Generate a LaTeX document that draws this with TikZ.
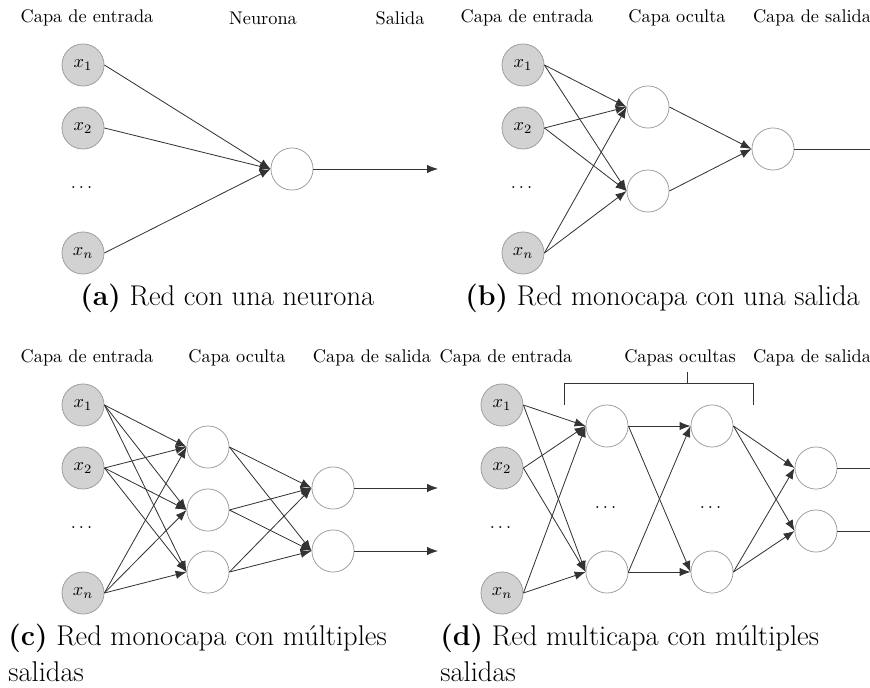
\documentclass[tikz,border=0pt]{standalone}
\usepackage{amsmath}
\usepackage{amssymb}
\usepackage{tikz}
\usetikzlibrary{arrows.meta}

\begin{document}
\begin{tikzpicture}[x=0.5465pt,y=-0.5465pt,
  entrada/.style={circle,draw=gray!80,fill=gray!35,minimum size=23pt,inner sep=0pt},
  neurona/.style={circle,draw=gray!80,fill=white,minimum size=23pt,inner sep=0pt},
  flecha/.style={-{Latex[length=6pt,width=4.6pt]},draw=black!80,line width=0.45pt},
  pie/.style={font=\fontsize{15.6}{19.5}\selectfont,align=left,inner sep=0pt,anchor=base west}]
\clip (0,0) rectangle (870,688);

% capas de entrada de las cuatro redes
\foreach \p/\x/\y in {a/83/0,b/523/0,c/83/340,d/502/340} {
  \node [entrada] (\p-x1) at (\x,\y+65) {$x_1$};
  \node [entrada] (\p-x2) at (\x,\y+128) {$x_2$};
  \node (\p-dots) at (\x,\y+188) {$\dots$};
  \node [entrada] (\p-xn) at (\x,\y+253) {$x_n$};
  \node (\p-ent) at (\x+4,\y+18) {Capa de entrada};
}

% (a) una neurona
\node (a-neu) at (263,18) {Neurona};
\node (a-sal) at (400,18) {Salida};
\node [neurona] (a-n) at (292,169) {};
\coordinate (a-fin) at (438,169);
\foreach \i in {x1,x2,xn}
  \draw [flecha] (a-\i.east) -- (a-n.west);
\draw [flecha] (a-n.east) -- (a-fin);
\node [pie] (a-pie) at (80,306) {\textbf{(a)} Red con una neurona};

% (b) monocapa, una salida
\node (b-oc) at (677,18) {Capa oculta};
\node (b-sal) at (812,18) {Capa de salida};
\node [neurona] (b-h1) at (648,107) {};
\node [neurona] (b-h2) at (648,191) {};
\node [neurona] (b-o) at (773,149) {};
\coordinate (b-fin) at (882,149);
\foreach \i in {x1,x2,xn}
  \foreach \j in {h1,h2}
    \draw [flecha] (b-\i.east) -- (b-\j.west);
\foreach \j in {h1,h2}
  \draw [flecha] (b-\j.east) -- (b-o.west);
\draw [flecha] (b-o.east) -- (b-fin);
\node [pie] (b-pie) at (465,306) {\textbf{(b)} Red monocapa con una salida};

% (c) monocapa, varias salidas
\node (c-oc) at (237,358) {Capa oculta};
\node (c-sal) at (372,358) {Capa de salida};
\node [neurona] (c-h1) at (208,447) {};
\node [neurona] (c-h2) at (208,510) {};
\node [neurona] (c-h3) at (208,572) {};
\node [neurona] (c-o1) at (333,488) {};
\node [neurona] (c-o2) at (333,551) {};
\coordinate (c-fin1) at (438,488);
\coordinate (c-fin2) at (438,551);
\foreach \i in {x1,x2,xn}
  \foreach \j in {h1,h2,h3}
    \draw [flecha] (c-\i.east) -- (c-\j.west);
\foreach \j in {h1,h2,h3}
  \foreach \k in {o1,o2}
    \draw [flecha] (c-\j.east) -- (c-\k.west);
\draw [flecha] (c-o1.east) -- (c-fin1);
\draw [flecha] (c-o2.east) -- (c-fin2);
\node [pie] (c-pie) at (8,681) {\textbf{(c)} Red monocapa con m\'ultiples\\salidas};

% (d) multicapa, varias salidas
\node (d-oc) at (680,358) {Capas ocultas};
\node (d-sal) at (812,358) {Capa de salida};
\draw [draw=black!80] (564,405) -- (564,383) -- (753,383) -- (753,405);
\draw [draw=black!80] (687,383) -- (687,372);
\node [neurona] (d-h1) at (607,426) {};
\node (d-hdots) at (607,508) {$\dots$};
\node [neurona] (d-h2) at (607,572) {};
\node [neurona] (d-g1) at (712,426) {};
\node (d-gdots) at (712,508) {$\dots$};
\node [neurona] (d-g2) at (712,572) {};
\node [neurona] (d-o1) at (816,468) {};
\node [neurona] (d-o2) at (816,531) {};
\coordinate (d-fin1) at (882,468);
\coordinate (d-fin2) at (882,531);
\foreach \i in {x1,x2,xn}
  \foreach \j in {h1,h2}
    \draw [flecha] (d-\i.east) -- (d-\j.west);
\foreach \j in {h1,h2}
  \foreach \k in {g1,g2}
    \draw [flecha] (d-\j.east) -- (d-\k.west);
\foreach \k in {g1,g2}
  \foreach \m in {o1,o2}
    \draw [flecha] (d-\k.east) -- (d-\m.west);
\draw [flecha] (d-o1.east) -- (d-fin1);
\draw [flecha] (d-o2.east) -- (d-fin2);
\node [pie] (d-pie) at (440,681) {\textbf{(d)} Red multicapa con m\'ultiples\\salidas};

\end{tikzpicture}
\end{document}
